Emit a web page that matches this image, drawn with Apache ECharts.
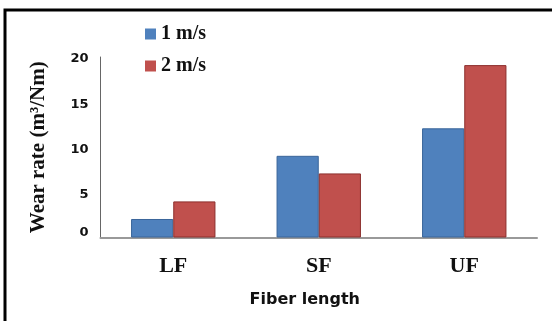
<!DOCTYPE html>
<html>
<head>
<meta charset="utf-8">
<script src="https://cdn.jsdelivr.net/npm/echarts@6/dist/echarts.min.js"></script>
<style>
  html, body { margin: 0; padding: 0; background: #fff; }
  #chart { width: 552px; height: 321px; }
</style>
</head>
<body>
<div id="chart"></div>
<script>
var categories = ["LF", "SF", "UF"];
var speed1 = [2.05, 9.05, 12.1];
var speed2 = [4.0, 7.1, 19.1];
var seriesNames = ["1 m/s", "2 m/s"];
var yTicks = [0, 5, 10, 15, 20];

var serif = '"Liberation Serif", "DejaVu Serif", serif';
var sans = '"DejaVu Sans", Verdana, sans-serif';

var chart = echarts.init(document.getElementById("chart"));
var option = {
  animation: false,
  backgroundColor: "#fff",
  graphic: [
    {
      type: "rect",
      shape: { x: 5, y: 10, width: 640, height: 360 },
      style: { fill: "none", stroke: "#000", lineWidth: 3 },
      silent: true
    }
  ],
  legend: {
    orient: "vertical",
    left: 140,
    top: 19,
    itemWidth: 11,
    itemHeight: 11,
    itemGap: 12,
    itemStyle: { borderWidth: 0 },
    icon: "rect",
    textStyle: { fontFamily: serif, fontWeight: "bold", fontSize: 20, color: "#111" },
    data: seriesNames
  },
  grid: { left: 100.5, right: 15, top: 57, bottom: 83.5 },
  xAxis: {
    type: "category",
    data: categories,
    name: "Fiber length",
    nameLocation: "middle",
    nameGap: 54,
    nameTextStyle: {
      fontFamily: sans, fontWeight: "bold", fontSize: 16, color: "#111",
      padding: [0, 28, 0, 0]
    },
    axisLine: { lineStyle: { color: "#999", width: 2 } },
    axisTick: { show: false },
    axisLabel: { margin: 18, fontFamily: serif, fontWeight: "bold", fontSize: 22, color: "#111" }
  },
  yAxis: {
    type: "value",
    min: 0,
    max: yTicks[yTicks.length - 1],
    interval: yTicks[1] - yTicks[0],
    name: "Wear rate (m³/Nm)",
    nameLocation: "middle",
    nameRotate: 90,
    nameGap: 51,
    nameTextStyle: { fontFamily: serif, fontWeight: "bold", fontSize: 21, color: "#111" },
    axisLine: { show: true, lineStyle: { color: "#666", width: 1 } },
    axisTick: { show: false },
    splitLine: { show: false },
    axisLabel: {
      margin: 12, fontFamily: sans, fontWeight: "bold", fontSize: 13, color: "#111",
      formatter: function(v) {
        return v === 0 ? "{z|0}" : "{n|" + v + "}";
      },
      rich: {
        z: { fontFamily: sans, fontWeight: "bold", fontSize: 13, color: "#111", padding: [0, 0, 10, 0] },
        n: { fontFamily: sans, fontWeight: "bold", fontSize: 13, color: "#111", padding: [4, 0, 0, 0] }
      }
    }
  },
  series: [
    {
      name: seriesNames[0],
      type: "bar",
      data: speed1,
      barWidth: "29%",
      barGap: "0%",
      itemStyle: { color: "#4F81BD", borderColor: "#3A659A", borderWidth: 1 }
    },
    {
      name: seriesNames[1],
      type: "bar",
      data: speed2,
      barWidth: "29%",
      itemStyle: { color: "#C0504D", borderColor: "#8C2F2D", borderWidth: 1 }
    }
  ]
};
chart.setOption(option);
</script>
</body>
</html>
